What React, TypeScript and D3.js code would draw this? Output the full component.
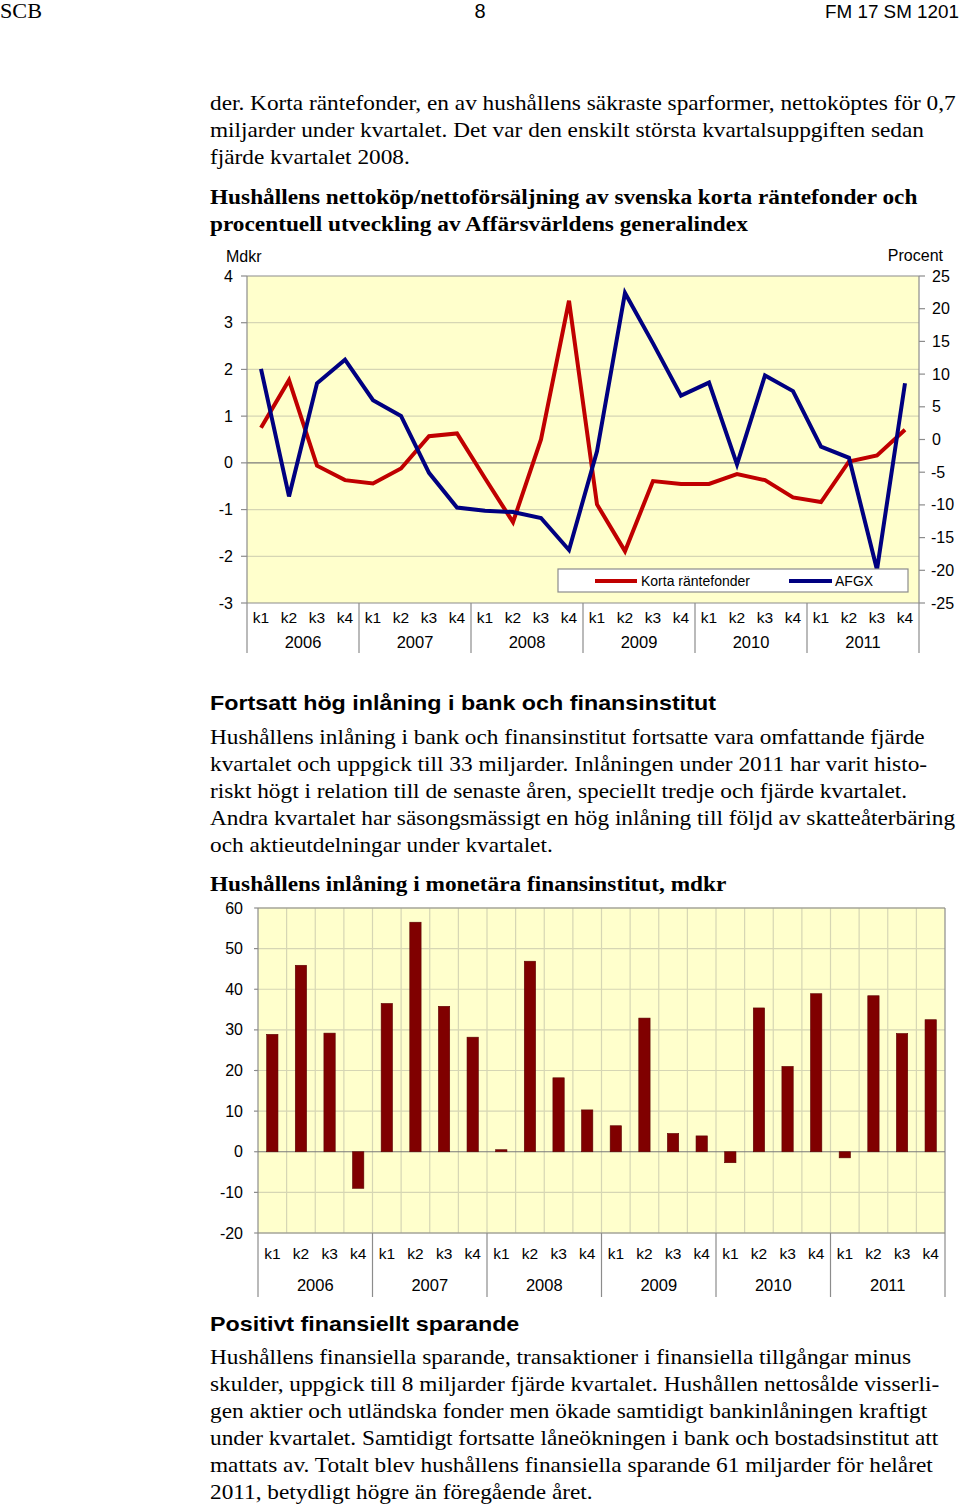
import * as d3 from 'd3'

// kvartal och år
const years = ['2006', '2007', '2008', '2009', '2010', '2011']
const quarters = ['k1', 'k2', 'k3', 'k4']

// Korta räntefonder, nettoköp mdkr (vänster axel)
const korta = [0.75, 1.77, -0.06, -0.37, -0.44, -0.12, 0.57, 0.63, -0.33, -1.27, 0.5, 3.47,
  -0.89, -1.89, -0.39, -0.45, -0.45, -0.24, -0.37, -0.74, -0.84, 0.03, 0.16, 0.71]
// AFGX, procentuell utveckling (höger axel)
const afgx = [10.8, -8.7, 8.6, 12.2, 6.0, 3.6, -5.1, -10.4, -10.9, -11.1, -12.0, -16.9,
  -1.8, 22.4, 14.7, 6.7, 8.7, -3.8, 9.8, 7.4, -1.1, -2.8, -19.9, 8.6]
// Inlåning i monetära finansinstitut, mdkr
const inlaning = [28.9, 45.9, 29.2, -9.0, 36.5, 56.5, 35.8, 28.2, 0.5, 46.9, 18.2, 10.3,
  6.4, 32.9, 4.5, 3.9, -2.7, 35.4, 21.0, 38.9, -1.5, 38.4, 29.1, 32.5]

const leftTicks1 = [-3, -2, -1, 0, 1, 2, 3, 4]
const rightTicks1 = [-25, -20, -15, -10, -5, 0, 5, 10, 15, 20, 25]
const ticks2 = [-20, -10, 0, 10, 20, 30, 40, 50, 60]

const para1 = [
  'der. Korta räntefonder, en av hushållens säkraste sparformer, nettoköptes för 0,7',
  'miljarder under kvartalet. Det var den enskilt största kvartalsuppgiften sedan',
  'fjärde kvartalet 2008.',
]
const title1 = [
  'Hushållens nettoköp/nettoförsäljning av svenska korta räntefonder och',
  'procentuell utveckling av Affärsvärldens generalindex',
]
const heading2 = 'Fortsatt hög inlåning i bank och finansinstitut'
const para2 = [
  'Hushållens inlåning i bank och finansinstitut fortsatte vara omfattande fjärde',
  'kvartalet och uppgick till 33 miljarder. Inlåningen under 2011 har varit histo-',
  'riskt högt i relation till de senaste åren, speciellt tredje och fjärde kvartalet.',
  'Andra kvartalet har säsongsmässigt en hög inlåning till följd av skatteåterbäring',
  'och aktieutdelningar under kvartalet.',
]
const title2 = 'Hushållens inlåning i monetära finansinstitut, mdkr'
const heading3 = 'Positivt finansiellt sparande'
const para3 = [
  'Hushållens finansiella sparande, transaktioner i finansiella tillgångar minus',
  'skulder, uppgick till 8 miljarder fjärde kvartalet. Hushållen nettosålde visserli-',
  'gen aktier och utländska fonder men ökade samtidigt bankinlåningen kraftigt',
  'under kvartalet. Samtidigt fortsatte låneökningen i bank och bostadsinstitut att',
  'mattats av. Totalt blev hushållens finansiella sparande 61 miljarder för helåret',
  '2011, betydligt högre än föregående året.',
]

const SERIF = '"Liberation Serif", "Times New Roman", serif'
const SANS = '"Liberation Sans", Arial, sans-serif'
const SX = 1.165
const BG = '#FFFFCC'
const GRID = '#d6d6b4'
const AXIS = '#8c8c8c'
const TICK = 16

const cats = d3.range(24)

function T(props: any) {
  const { x, y, size = 20, weight = 'normal', family = SERIF, children } = props
  return (
    <text transform={`translate(${x},${y}) scale(${SX},1)`} fontSize={size}
      fontWeight={weight} fontFamily={family} fill="#000">{children}</text>
  )
}

function CatAxis(props: any) {
  const { x, yTop, kY, yearY, bottom, size, yearSize } = props
  const yearW = (x.range()[1] - x.range()[0]) / years.length
  return (
    <g fontFamily={SANS} fill="#000">
      {cats.map(i => (
        <text key={'k' + i} x={x(i)! + x.bandwidth() / 2} y={kY} fontSize={size}
          textAnchor="middle" dominantBaseline="central">{quarters[i % 4]}</text>
      ))}
      {years.map((yr, i) => (
        <text key={yr} x={x.range()[0] + yearW * (i + 0.5)} y={yearY} fontSize={yearSize}
          textAnchor="middle" dominantBaseline="central">{yr}</text>
      ))}
      {d3.range(7).map(i => (
        <line key={'s' + i} x1={x.range()[0] + yearW * i} x2={x.range()[0] + yearW * i}
          y1={yTop} y2={bottom} stroke={AXIS} strokeWidth={1.2} />
      ))}
    </g>
  )
}

function LineChart() {
  const x0 = 247, x1 = 919, y0 = 276, y1 = 603
  const x = d3.scaleBand<number>().domain(cats).range([x0, x1])
  const yL = d3.scaleLinear().domain([-3, 4]).range([y1, y0])
  const yR = d3.scaleLinear().domain([-25, 25]).range([y1, y0])
  const cx = (i: number) => x(i)! + x.bandwidth() / 2
  const redLine = d3.line<number>().x((_, i) => cx(i)).y(d => yL(d))
  const blueLine = d3.line<number>().x((_, i) => cx(i)).y(d => yR(d))

  return (
    <g>
      <rect x={x0} y={y0} width={x1 - x0} height={y1 - y0} fill={BG} />
      {leftTicks1.filter(t => t !== 0 && t !== 4 && t !== -3).map(t => (
        <line key={t} x1={x0} x2={x1} y1={yL(t)} y2={yL(t)} stroke={GRID} strokeWidth={1.2} />
      ))}
      <line x1={x0} x2={x1} y1={yL(0)} y2={yL(0)} stroke="#7a7a7a" strokeWidth={1.2} />
      <line x1={x0} x2={x1} y1={y0} y2={y0} stroke={AXIS} strokeWidth={1.2} />
      <line x1={x0} x2={x1} y1={y1} y2={y1} stroke={AXIS} strokeWidth={1.2} />
      <line x1={x0} x2={x0} y1={y0} y2={y1} stroke={AXIS} strokeWidth={1.2} />
      <line x1={x1} x2={x1} y1={y0} y2={y1} stroke={AXIS} strokeWidth={1.2} />
      {leftTicks1.map(t => (
        <g key={t}>
          <line x1={x0 - 6} x2={x0} y1={yL(t)} y2={yL(t)} stroke={AXIS} strokeWidth={1.2} />
          <text x={233} y={yL(t)} fontSize={TICK} fontFamily={SANS} textAnchor="end"
            dominantBaseline="central">{t}</text>
        </g>
      ))}
      {rightTicks1.map(t => (
        <g key={t}>
          <line x1={x1} x2={x1 + 6} y1={yR(t)} y2={yR(t)} stroke={AXIS} strokeWidth={1.2} />
          <text x={t < 0 ? 931 : 932} y={yR(t)} fontSize={TICK} fontFamily={SANS}
            dominantBaseline="central">{t}</text>
        </g>
      ))}
      <text x={226} y={262} fontSize={TICK} fontFamily={SANS}>Mdkr</text>
      <text x={943} y={261} fontSize={TICK} fontFamily={SANS} textAnchor="end">Procent</text>
      <CatAxis x={x} yTop={y1} kY={617} yearY={642} bottom={653} size={15.5} yearSize={16.5} />
      <path d={redLine(korta)!} fill="none" stroke="#C00000" strokeWidth={4} strokeLinejoin="miter" />
      <path d={blueLine(afgx)!} fill="none" stroke="#000080" strokeWidth={4} strokeLinejoin="miter" />
      <rect x={558} y={569} width={350} height={23} fill="#fff" stroke={AXIS} strokeWidth={1.2} />
      <line x1={595} x2={637} y1={581} y2={581} stroke="#C00000" strokeWidth={4} />
      <text x={641} y={581} fontSize={14} fontFamily={SANS} dominantBaseline="central">Korta räntefonder</text>
      <line x1={789} x2={832} y1={581} y2={581} stroke="#000080" strokeWidth={4} />
      <text x={835} y={581} fontSize={14} fontFamily={SANS} dominantBaseline="central">AFGX</text>
    </g>
  )
}

function BarChart() {
  const x0 = 258, x1 = 945, y0 = 908, y1 = 1233
  const x = d3.scaleBand<number>().domain(cats).range([x0, x1])
  const y = d3.scaleLinear().domain([-20, 60]).range([y1, y0])
  const bw = 11.3

  return (
    <g>
      <rect x={x0} y={y0} width={x1 - x0} height={y1 - y0} fill={BG} />
      {ticks2.filter(t => t !== 0).map(t => (
        <line key={t} x1={x0} x2={x1} y1={y(t)} y2={y(t)} stroke={GRID} strokeWidth={1.2} />
      ))}
      {cats.slice(1).map(i => (
        <line key={'v' + i} x1={x(i)!} x2={x(i)!} y1={y0} y2={y1} stroke={GRID} strokeWidth={1.2} />
      ))}
      <line x1={x0} x2={x1} y1={y0} y2={y0} stroke={AXIS} strokeWidth={1.2} />
      <line x1={x1} x2={x1} y1={y0} y2={y1} stroke={AXIS} strokeWidth={1.2} />
      <line x1={x0} x2={x0} y1={y0} y2={y1} stroke={AXIS} strokeWidth={1.2} />
      <line x1={x0} x2={x1} y1={y1} y2={y1} stroke={AXIS} strokeWidth={1.2} />
      <line x1={x0} x2={x1} y1={y(0)} y2={y(0)} stroke="#7a7a7a" strokeWidth={1.2} />
      {ticks2.map(t => (
        <g key={t}>
          <line x1={x0 - 4} x2={x0} y1={y(t)} y2={y(t)} stroke={AXIS} strokeWidth={1.2} />
          <text x={243} y={y(t)} fontSize={TICK} fontFamily={SANS} textAnchor="end"
            dominantBaseline="central">{t}</text>
        </g>
      ))}
      {inlaning.map((v, i) => (
        <rect key={i} x={x(i)! + x.bandwidth() / 2 - bw / 2} y={y(Math.max(0, v))}
          width={bw} height={Math.abs(y(v) - y(0))} fill="#800000" stroke="#5a0000" strokeWidth={0.6} />
      ))}
      <CatAxis x={x} yTop={y1} kY={1253} yearY={1285} bottom={1297} size={15.5} yearSize={16.5} />
    </g>
  )
}

export default function App() {
  return (
    <svg width={960} height={1505} viewBox="0 0 960 1505"
      style={{ position: 'absolute', left: 0, top: 0, background: '#fff' }}>
      <rect width={960} height={1505} fill="#fff" />
      <text x={0} y={18} fontSize={21} fontFamily={SERIF} textLength={42} lengthAdjust="spacingAndGlyphs">SCB</text>
      <text x={480} y={18} fontSize={20} fontFamily={SANS} textAnchor="middle">8</text>
      <text x={825} y={18} fontSize={18} fontFamily={SANS} textLength={134} lengthAdjust="spacingAndGlyphs">FM 17 SM 1201</text>

      {para1.map((s, i) => <T key={s} x={210} y={110 + i * 27}>{s}</T>)}
      {title1.map((s, i) => <T key={s} x={210} y={204 + i * 27} weight="bold">{s}</T>)}

      <LineChart />

      <T x={210} y={710} family={SANS} weight="bold">{heading2}</T>
      {para2.map((s, i) => <T key={s} x={210} y={744 + i * 27}>{s}</T>)}
      <T x={210} y={891} weight="bold">{title2}</T>

      <BarChart />

      <T x={210} y={1331} family={SANS} weight="bold">{heading3}</T>
      {para3.map((s, i) => <T key={s} x={210} y={1364 + i * 27}>{s}</T>)}
    </svg>
  )
}
